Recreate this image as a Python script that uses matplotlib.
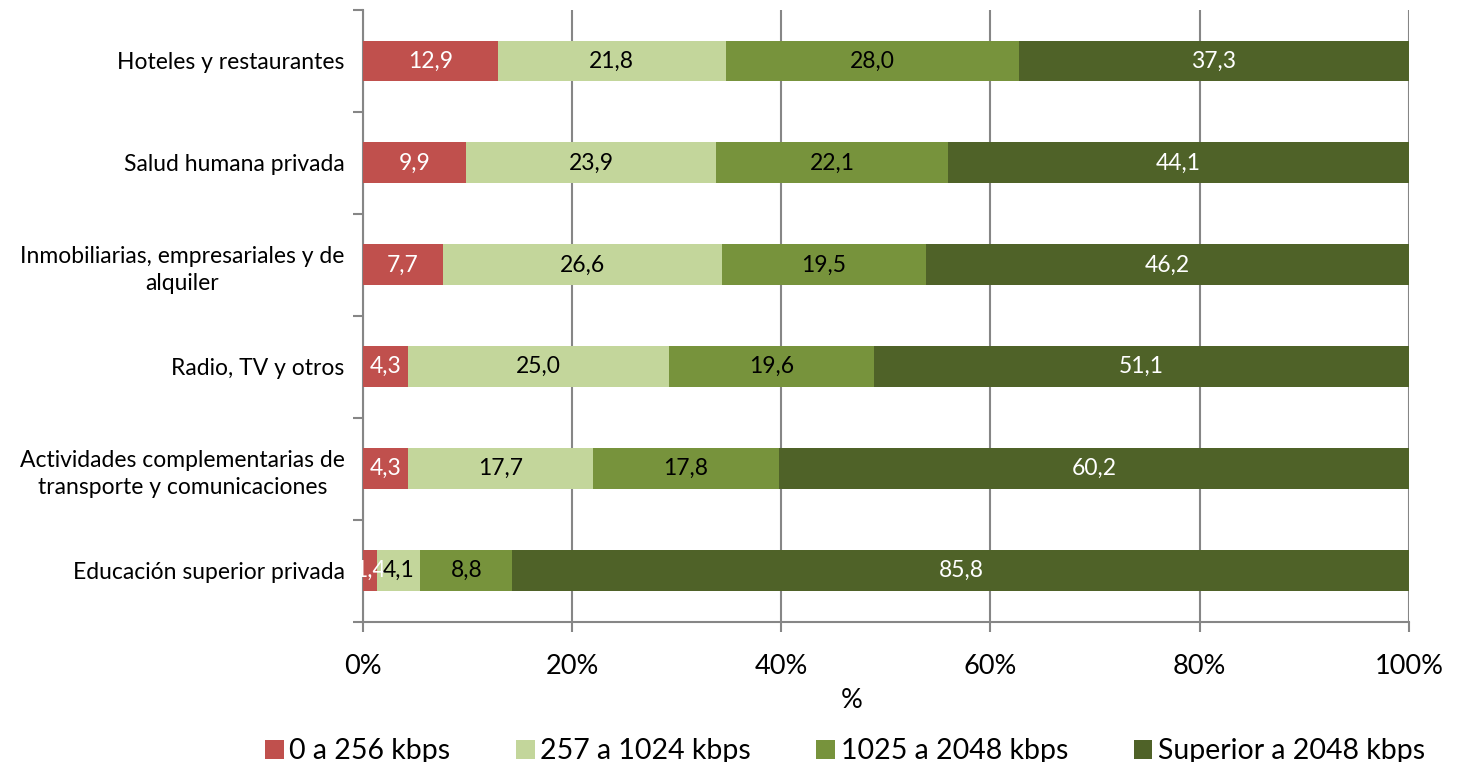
import matplotlib.pyplot as plt
import numpy as np

plt.rcParams['font.family'] = ['Lato', 'DejaVu Sans']

categorias = ["Hoteles y restaurantes", "Salud humana privada",
              "Inmobiliarias, empresariales y de\nalquiler", "Radio, TV y otros",
              "Actividades complementarias de\ntransporte y comunicaciones",
              "Educación superior privada"]
series = ["0 a 256 kbps", "257 a 1024 kbps", "1025 a 2048 kbps", "Superior a 2048 kbps"]
v_0_256 = [12.9, 9.9, 7.7, 4.3, 4.3, 1.4]
v_257_1024 = [21.8, 23.9, 26.6, 25.0, 17.7, 4.1]
v_1025_2048 = [28.0, 22.1, 19.5, 19.6, 17.8, 8.8]
v_sup_2048 = [37.3, 44.1, 46.2, 51.1, 60.2, 85.8]

colores = ['#C0504D', '#C3D69B', '#77933C', '#4F6228']
col_texto = ['white', 'black', 'black', 'white']

fig = plt.figure(figsize=(14.57, 7.62), dpi=100)
ax = fig.add_axes([0.249, 0.184, 0.718, 0.803])

y = np.arange(len(categorias))
izq = np.zeros(len(categorias))
for vals, nom, c, tc in zip([v_0_256, v_257_1024, v_1025_2048, v_sup_2048], series, colores, col_texto):
    vals = np.array(vals)
    ax.barh(y, vals, left=izq, height=0.4, color=c, label=nom, zorder=3)
    for yi, l, v in zip(y, izq, vals):
        ax.text(l + v / 2, yi, f"{v:.1f}".replace('.', ','), ha='center', va='center',
                color=tc, fontsize=16.5, zorder=4)
    izq += vals

ax.set_xlim(0, 100)
ax.set_ylim(len(categorias) - 0.5, -0.5)
ax.set_xticks(np.arange(0, 101, 20))
ax.set_xticklabels([f"{t}%" for t in range(0, 101, 20)], fontsize=19.5)
ax.set_yticks(y)
ax.set_yticklabels(categorias, fontsize=16.5, multialignment='center', linespacing=1.35)
ax.set_yticks(np.arange(-0.5, len(categorias), 1), minor=True)
ax.tick_params(axis='y', which='major', length=0, pad=13)
ax.tick_params(axis='y', which='minor', length=7, width=1.5, color='#868686', direction='out')
ax.tick_params(axis='x', length=7, width=1.5, color='#868686', pad=16)
ax.grid(axis='x', color='#868686', linewidth=1.5, zorder=0)
for s in ['top', 'right']:
    ax.spines[s].set_visible(False)
for s in ['left', 'bottom']:
    ax.spines[s].set_color('#868686')
    ax.spines[s].set_linewidth(1.5)
ax.set_xlabel('%', fontsize=19.5)
ax.xaxis.set_label_coords(0.467, -0.108)

fig.legend(loc='center', bbox_to_anchor=(0.58, 0.014), ncol=4, frameon=False,
           fontsize=20.5, handlelength=0.65, handleheight=0.65, handletextpad=0.2,
           columnspacing=2.3)

fig.savefig('out.png', dpi=100)
